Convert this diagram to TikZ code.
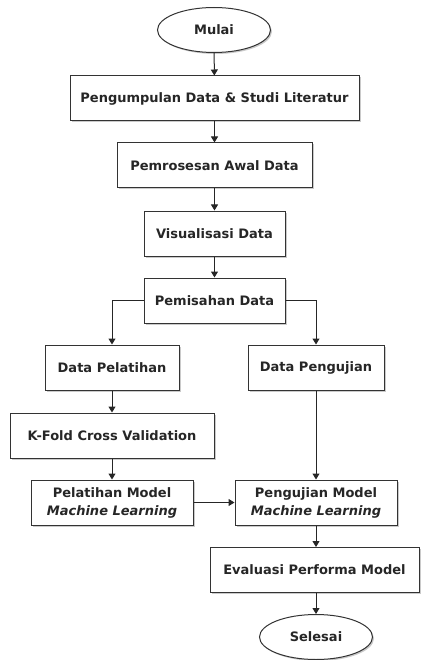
\documentclass[tikz,border=0pt]{standalone}
\usepackage{fontspec}
\setmainfont{DejaVu Sans}
\usetikzlibrary{shapes.geometric,arrows.meta,shadows}
\begin{document}
\begin{tikzpicture}[x=1pt,y=-1pt,
  every node/.style={font=\bfseries\fontsize{13}{18}\selectfont, text=black!85},
  box/.style={draw=black!80, line width=1pt, fill=white, minimum height=45pt, inner sep=0pt, align=center,
    drop shadow={shadow xshift=1.5pt, shadow yshift=-1.5pt, fill=black!35, opacity=0.6}},
  term/.style={box, ellipse, minimum width=113pt},
  arr/.style={draw=black!85, line width=1pt, -{Triangle[length=6pt,width=7pt]}}]
\useasboundingbox (0,0) rectangle (420,660);
\node[term] (mulai) at (214,30) {Mulai};
\node[box, minimum width=289pt] (kumpul) at (214.5,98.5) {Pengumpulan Data \& Studi Literatur};
\node[box, minimum width=195pt] (proses) at (214.5,165.5) {Pemrosesan Awal Data};
\node[box, minimum width=141pt] (visual) at (214.5,233.5) {Visualisasi Data};
\node[box, minimum width=141pt] (pisah) at (214.5,300.5) {Pemisahan Data};
\node[box, minimum width=134pt] (latih) at (112,367.5) {Data Pelatihan};
\node[box, minimum width=136pt] (uji) at (316,367.5) {Data Pengujian};
\node[box, minimum width=204pt] (kfold) at (112,435.5) {K-Fold Cross Validation};
\node[box, minimum width=162pt] (mlatih) at (112,502.5) {Pelatihan Model\\\textit{Machine Learning}};
\node[box, minimum width=162pt] (muji) at (316,502.5) {Pengujian Model\\\textit{Machine Learning}};
\node[box, minimum width=209pt] (eval) at (314.5,570) {Evaluasi Performa Model};
\node[term] (selesai) at (316,637) {Selesai};
\draw[arr] (mulai) -- (kumpul);
\draw[arr] (kumpul) -- (proses);
\draw[arr] (proses) -- (visual);
\draw[arr] (visual) -- (pisah);
\draw[arr] (pisah.west) -| (latih.north);
\draw[arr] (pisah.east) -| (uji.north);
\draw[arr] (latih) -- (kfold);
\draw[arr] (kfold) -- (mlatih);
\draw[arr] (uji) -- (muji);
\draw[arr] (mlatih) -- (muji);
\draw[arr] (muji.south) -- (muji.south |- eval.north);
\draw[arr] (eval.south -| selesai.north) -- (selesai);
\end{tikzpicture}
\end{document}
